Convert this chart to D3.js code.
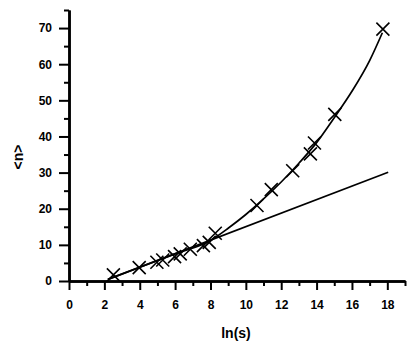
<!DOCTYPE html>
<html>
<head>
<meta charset="UTF-8">
<script src="https://d3js.org/d3.v7.min.js"></script>
<style>
  body { margin: 0; background: #fff; }
  text { font-family: "Liberation Sans", Arial, sans-serif; font-weight: bold; fill: #000; }
  .domain { stroke: #000; }
  .tick line { stroke: #000; stroke-width: 2px; }
</style>
</head>
<body>
<div id="chart"></div>
<script>
// measured points (ln(s), <n>)
const lnS = [2.51, 3.97, 4.97, 5.3, 5.97, 6.29, 6.86, 7.6, 7.93, 8.27, 10.63, 11.44, 12.65, 13.65, 13.88, 15.03, 17.75];
const nMean = [1.7, 3.7, 5.2, 5.8, 6.75, 7.5, 8.8, 9.8, 10.7, 13.2, 20.9, 25.3, 30.5, 35.2, 38.2, 46.1, 69.7];

// linear fit line ends
const lineX = [2.2, 18.05];
const lineY = [0.45, 30.1];

// fitted curve
const curveX = [2.2, 4, 6, 8, 9, 10, 11, 12, 13, 14, 15, 16, 17, 17.72];
const curveY = [0.45, 3.8, 7.5, 11.2, 14.6, 18.4, 22.7, 27.4, 32.6, 38.3, 45.2, 52.5, 61, 68.7];

const xMajor = [0, 2, 4, 6, 8, 10, 12, 14, 16, 18];
const xMinor = [1, 3, 5, 7, 9, 11, 13, 15, 17, 19];
const yMajor = [0, 10, 20, 30, 40, 50, 60, 70];
const yMinor = [5, 15, 25, 35, 45, 55, 65, 75];

const width = 416, height = 348;
const svg = d3.select("#chart").append("svg")
    .attr("width", width)
    .attr("height", height);

const x = d3.scaleLinear().domain([0, 19]).range([69, 405]);
const y = d3.scaleLinear().domain([0, 75]).range([281, 10]);

// minor ticks first, then major with labels
svg.append("g")
    .attr("transform", `translate(0,${y(0)})`)
    .call(d3.axisBottom(x).tickValues(xMinor).tickSize(5).tickSizeOuter(0).tickFormat(""));
svg.append("g")
    .attr("transform", `translate(0,${y(0)})`)
    .call(d3.axisBottom(x).tickValues(xMajor).tickSize(9).tickSizeOuter(0).tickPadding(10))
    .call(g => g.selectAll("text").style("font-size", "12px"));

svg.append("g")
    .attr("transform", `translate(${x(0)},0)`)
    .call(d3.axisLeft(y).tickValues(yMinor).tickSize(5).tickSizeOuter(0).tickFormat(""));
svg.append("g")
    .attr("transform", `translate(${x(0)},0)`)
    .call(d3.axisLeft(y).tickValues(yMajor).tickSize(10).tickSizeOuter(0).tickPadding(7))
    .call(g => g.selectAll("text").style("font-size", "12px"));

svg.selectAll(".domain").attr("stroke-width", 2.5);

// linear fit
svg.append("line")
    .attr("x1", x(lineX[0])).attr("y1", y(lineY[0]))
    .attr("x2", x(lineX[1])).attr("y2", y(lineY[1]))
    .attr("stroke", "#000").attr("stroke-width", 1.7);

// curve fit
const curvePts = curveX.map((v, i) => [v, curveY[i]]);
svg.append("path")
    .datum(curvePts)
    .attr("fill", "none")
    .attr("stroke", "#000")
    .attr("stroke-width", 1.7)
    .attr("d", d3.line().x(d => x(d[0])).y(d => y(d[1])).curve(d3.curveMonotoneX));

// X markers
const s = 6.5;
const pts = lnS.map((v, i) => [v, nMean[i]]);
svg.append("g").selectAll("path")
    .data(pts)
    .join("path")
    .attr("d", d => {
        const cx = x(d[0]), cy = y(d[1]);
        return `M${cx - s},${cy - s}L${cx + s},${cy + s}M${cx - s},${cy + s}L${cx + s},${cy - s}`;
    })
    .attr("stroke", "#000")
    .attr("stroke-width", 1.6);

// axis titles
svg.append("text")
    .attr("x", 236).attr("y", 338)
    .attr("text-anchor", "middle")
    .style("font-size", "14px")
    .text("ln(s)");

svg.append("text")
    .attr("transform", "translate(23,157) rotate(-90)")
    .attr("text-anchor", "middle")
    .style("font-size", "14px")
    .text("<n>");
</script>
</body>
</html>
